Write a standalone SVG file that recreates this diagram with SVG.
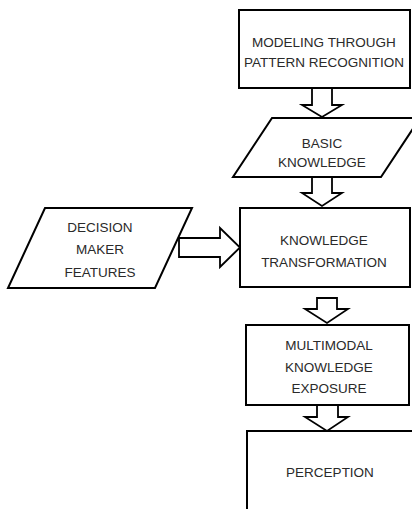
<svg xmlns="http://www.w3.org/2000/svg" width="412" height="509" viewBox="0 0 412 509">
<style>
.s{fill:#fff;stroke:#000;stroke-width:2;stroke-linejoin:miter}
.a{fill:#fff;stroke:#000;stroke-width:1.8;stroke-linejoin:miter}
text{font-family:"Liberation Sans",Arial,sans-serif;font-size:13.5px;fill:#2a2a2a;text-anchor:middle}
</style>
<rect width="412" height="509" fill="#fff"/>
<g id="connectors">
<polygon class="a" points="312,88 332,88 332,105 342,105 322,117 302,105 312,105"/>
<polygon class="a" points="312,177 332,177 332,193 342,193 322,206 302,193 312,193"/>
<polygon class="a" points="179,238 220,238 220,228 240,247.5 220,267 220,257 179,257"/>
<polygon class="a" points="317,298 337,298 337,309 348,309 327,323 305,309 317,309"/>
<polygon class="a" points="317,405 338,405 338,417 348,417 327,431 305,417 317,417"/>
</g>
<g id="modeling">
<rect class="s" x="239" y="10" width="171" height="78"/>
<text x="324" y="47">MODELING THROUGH</text>
<text x="324" y="67">PATTERN RECOGNITION</text>
</g>
<g id="basic">
<polygon class="s" points="272,118 420,118 381,177 233,177"/>
<text x="322" y="148">BASIC</text>
<text x="322" y="167">KNOWLEDGE</text>
</g>
<g id="decision">
<polygon class="s" points="45,208 192,208 155,288 8,288"/>
<text x="100" y="232">DECISION</text>
<text x="100" y="254">MAKER</text>
<text x="100" y="277">FEATURES</text>
</g>
<g id="transformation">
<rect class="s" x="240" y="208" width="170" height="79"/>
<text x="324" y="245">KNOWLEDGE</text>
<text x="324" y="267">TRANSFORMATION</text>
</g>
<g id="exposure">
<rect class="s" x="246" y="325" width="163" height="80"/>
<text x="329" y="350">MULTIMODAL</text>
<text x="329" y="372">KNOWLEDGE</text>
<text x="329" y="393">EXPOSURE</text>
</g>
<g id="perception">
<rect class="s" x="247" y="431" width="170" height="90"/>
<text x="330" y="477">PERCEPTION</text>
</g>
</svg>
